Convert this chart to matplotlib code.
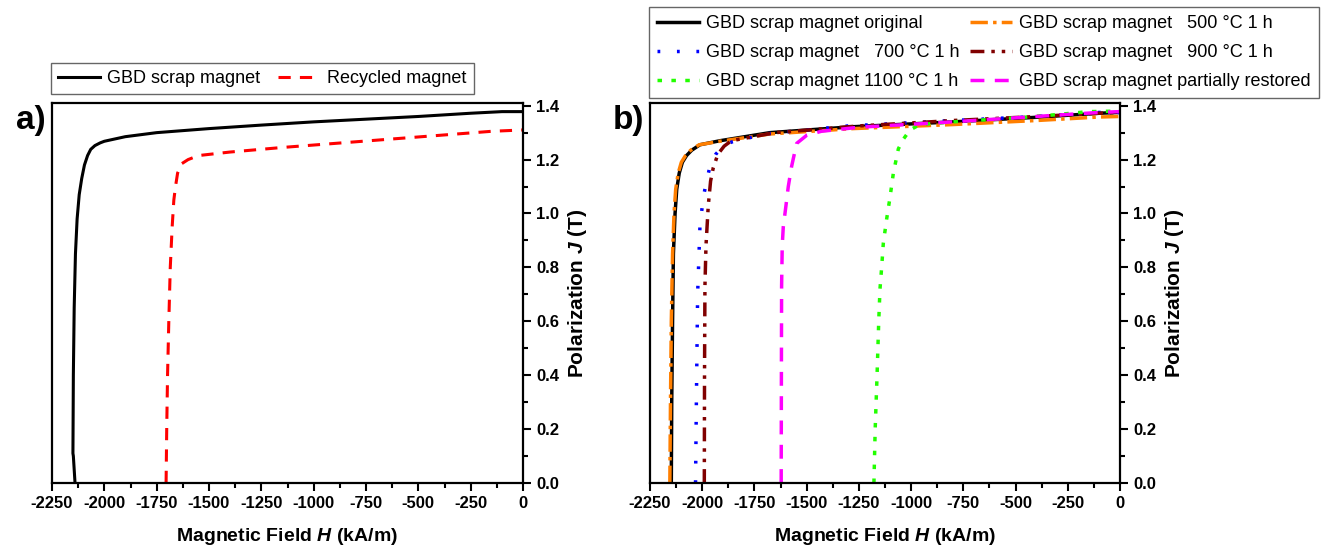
import numpy as np
import matplotlib
matplotlib.use('Agg')
import matplotlib.pyplot as plt
from matplotlib.ticker import MultipleLocator, FormatStrFormatter

plt.rcParams['font.family'] = ['Liberation Sans', 'DejaVu Sans']
plt.rcParams['mathtext.fontset'] = 'custom'
plt.rcParams['mathtext.it'] = 'Liberation Sans:italic:bold'
plt.rcParams['mathtext.rm'] = 'Liberation Sans:bold'
plt.rcParams['axes.unicode_minus'] = False

# --- a) scrap vs recycled ---
scrap_H = [-2140, -2148, -2150, -2148, -2144, -2138, -2130, -2120, -2108, -2095, -2080, -2065,
           -2045, -2020, -2000, -1900, -1750, -1500, -1250, -1000, -750, -500, -250, -100, 0]
scrap_J = [0.00, 0.10, 0.11, 0.40, 0.65, 0.85, 0.98, 1.07, 1.13, 1.18, 1.215, 1.238,
           1.252, 1.262, 1.268, 1.285, 1.300, 1.315, 1.328, 1.340, 1.350, 1.360, 1.372, 1.378, 1.378]

recycled_H = [-1705, -1702, -1698, -1692, -1685, -1676, -1668, -1660, -1650, -1630, -1600,
              -1550, -1400, -1150, -900, -650, -400, -150, 0]
recycled_J = [0.00, 0.20, 0.40, 0.60, 0.80, 0.95, 1.05, 1.10, 1.15, 1.185, 1.20,
              1.215, 1.228, 1.245, 1.26, 1.275, 1.29, 1.305, 1.31]

# --- b) heat treated scrap ---
orig_H = [-2148, -2146, -2142, -2138, -2130, -2122, -2110, -2095, -2075, -2050, -2011,
          -1915, -1676, -1278, -799, -400, -100, 0]
orig_J = [0.0, 0.3, 0.6, 0.85, 1.0, 1.09, 1.15, 1.19, 1.215, 1.235, 1.255,
          1.27, 1.30, 1.322, 1.34, 1.357, 1.372, 1.375]

t500_H = [-2155, -2152, -2148, -2142, -2135, -2127, -2115, -2100, -2080, -2055, -2015,
          -1915, -1676, -1278, -799, -400, -100, 0]
t500_J = [0.0, 0.3, 0.6, 0.85, 1.0, 1.09, 1.15, 1.19, 1.215, 1.235, 1.255,
          1.268, 1.295, 1.315, 1.33, 1.345, 1.358, 1.36]

t700_H = [-2032, -2028, -2022, -2011, -1995, -1979, -1963, -1935, -1900, -1860,
          -1700, -1300, -800, -400, -100, 0]
t700_J = [0.0, 0.3, 0.7, 0.95, 1.06, 1.12, 1.175, 1.22, 1.25, 1.265,
          1.295, 1.325, 1.345, 1.36, 1.375, 1.375]

t900_H = [-1990, -1989, -1987, -1982, -1971, -1960, -1947, -1925, -1895, -1860,
          -1650, -1250, -800, -400, -100, 0]
t900_J = [0.0, 0.4, 0.73, 0.88, 1.03, 1.12, 1.17, 1.22, 1.25, 1.27,
          1.30, 1.325, 1.345, 1.36, 1.372, 1.375]

t1100_H = [-1178, -1172, -1163, -1155, -1149, -1141, -1133, -1117, -1101, -1085, -1061,
           -1037, -1005, -958, -800, -400, -150, 0]
t1100_J = [0.0, 0.2, 0.4, 0.6, 0.72, 0.8, 0.89, 0.98, 1.06, 1.15, 1.24,
           1.276, 1.31, 1.33, 1.34, 1.36, 1.378, 1.38]

restored_H = [-1622, -1621, -1620, -1617, -1612, -1599, -1588, -1572, -1548, -1500,
              -1430, -1250, -800, -400, -100, 0]
restored_J = [0.0, 0.4, 0.73, 0.88, 0.95, 1.03, 1.10, 1.175, 1.26, 1.29,
              1.305, 1.32, 1.34, 1.36, 1.375, 1.378]

x_ticks = np.arange(-2250, 1, 250)

fig = plt.figure(figsize=(13.26, 5.47), dpi=100)
ax_a = fig.add_axes([52/1326, 64/547, 471/1326, 380/547])
ax_b = fig.add_axes([650/1326, 64/547, 470/1326, 380/547])


def style_axes(ax):
    ax.set_xlim(-2250, 0)
    ax.set_ylim(0, 1.41)
    ax.set_xticks(x_ticks)
    ax.xaxis.set_minor_locator(MultipleLocator(125))
    ax.yaxis.set_major_locator(MultipleLocator(0.2))
    ax.yaxis.set_minor_locator(MultipleLocator(0.1))
    ax.yaxis.set_major_formatter(FormatStrFormatter('%.1f'))
    ax.yaxis.tick_right()
    ax.yaxis.set_label_position('right')
    ax.tick_params(which='major', direction='out', length=6, width=1.5, labelsize=12)
    ax.tick_params(which='minor', direction='out', length=3.5, width=1.5)
    for lab in ax.get_xticklabels() + ax.get_yticklabels():
        lab.set_fontweight('bold')
    for sp in ax.spines.values():
        sp.set_linewidth(1.6)
    ax.set_xlabel('Magnetic Field $H$ (kA/m)', fontsize=14, fontweight='bold', labelpad=11)
    ax.set_ylabel('Polarization $J$ (T)', fontsize=15, fontweight='bold', labelpad=5)


# panel a
la1, = ax_a.plot(scrap_H, scrap_J, color='black', lw=2.2, label='GBD scrap magnet')
la2, = ax_a.plot(recycled_H, recycled_J, color='#FF0000', lw=2.2,
                 linestyle=(0, (4, 3)), label='Recycled magnet')
style_axes(ax_a)

# panel b
lb_orig, = ax_b.plot(orig_H, orig_J, color='black', lw=2.5,
                     label='GBD scrap magnet original')
lb_500, = ax_b.plot(t500_H, t500_J, color='#FF7F00', lw=2.5, linestyle=(0, (5, 1.5, 1, 1.5)),
                    label='GBD scrap magnet   500 °C 1 h')
lb_700, = ax_b.plot(t700_H, t700_J, color='#0000FF', lw=2.5, linestyle=(0, (0.8, 4.8)),
                    label='GBD scrap magnet   700 °C 1 h')
lb_900, = ax_b.plot(t900_H, t900_J, color='#800000', lw=2.5,
                    linestyle=(0, (4, 2, 1, 2, 1, 2)),
                    label='GBD scrap magnet   900 °C 1 h')
lb_1100, = ax_b.plot(t1100_H, t1100_J, color='#22FF00', lw=2.5, linestyle=(0, (1.3, 2.7)),
                     label='GBD scrap magnet 1100 °C 1 h')
lb_rest, = ax_b.plot(restored_H, restored_J, color='#FF00FF', lw=2.5, linestyle=(0, (4, 3)),
                     label='GBD scrap magnet partially restored')
style_axes(ax_b)

leg_a = fig.legend(handles=[la1, la2], loc='upper left', bbox_to_anchor=(51/1326, 1 - 63/547),
                   ncol=2, fontsize=13, frameon=True, fancybox=False, edgecolor='#404040',
                   handlelength=2.3, handletextpad=0.4, columnspacing=1.0,
                   borderpad=0.4, borderaxespad=0)
leg_a.get_frame().set_linewidth(1.0)

leg_b = fig.legend(handles=[lb_orig, lb_700, lb_1100, lb_500, lb_900, lb_rest],
                   loc='upper left', bbox_to_anchor=(649/1326, 1 - 7/547),
                   ncol=2, fontsize=13, frameon=True, fancybox=False, edgecolor='#404040',
                   handlelength=2.3, handletextpad=0.4, columnspacing=0.6,
                   labelspacing=0.66, borderpad=0.45, borderaxespad=0)
leg_b.get_frame().set_linewidth(1.0)

fig.text(46/1326, 1 - 121/547, 'a)', fontsize=24, fontweight='bold', ha='right', va='center')
fig.text(644/1326, 1 - 121/547, 'b)', fontsize=24, fontweight='bold', ha='right', va='center')

fig.savefig('out.png', dpi=100)
